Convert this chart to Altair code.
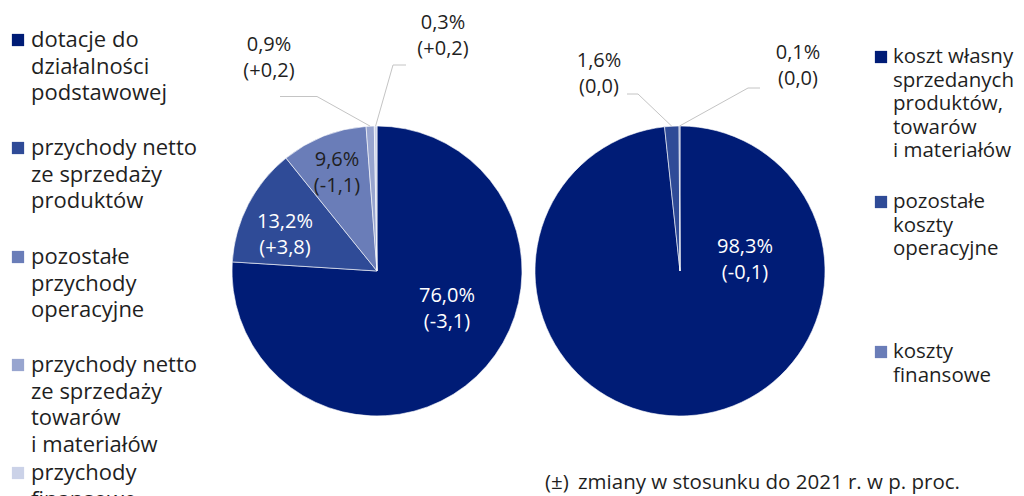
import math
import altair as alt
import pandas as pd

# ---------------- data ----------------
left_categories = [
    "dotacje do\ndziałalności\npodstawowej",
    "przychody netto\nze sprzedaży\nproduktów",
    "pozostałe\nprzychody\noperacyjne",
    "przychody netto\nze sprzedaży\ntowarów\ni materiałów",
    "przychody\nfinansowe",
]
left_share = [76.0, 13.2, 9.6, 0.9, 0.3]
left_change = [-3.1, 3.8, -1.1, 0.2, 0.2]

right_categories = [
    "koszt własny\nsprzedanych\nproduktów,\ntowarów\ni materiałów",
    "pozostałe\nkoszty\noperacyjne",
    "koszty\nfinansowe",
]
right_share = [98.3, 1.6, 0.1]
right_change = [-0.1, 0.0, 0.0]

note_symbol = "(±)"
note_text = "zmiany w stosunku do 2021 r. w p. proc."

# ---------------- styles / layout ----------------
OFF = 8  # page margin
palette = ["#001c76", "#2f4b97", "#6a7db8", "#98a5cf", "#cbd2e8"]
TXT = "#1f1f1f"
FONT = "Open Sans"
R = 145
left_center = (377, 271)
right_center = (680, 271)
left_label_color = ["white", "white", TXT, TXT, TXT]
right_label_color = ["white", TXT, TXT]
# label block centre offset from pie centre
left_label_off = [(70, 38), (-92, -36), (-40, -98), (-108, -213), (66, -235)]
right_label_off = [(65, -11), (-81, -197), (118, -205)]
# leader lines: (elbow offset, end offset) relative to label block centre
left_leader = {3: ((48, 38.5), (11, 38.5)), 4: ((-50, 29), (-37, 29))}
right_leader = {1: ((39, 20), (28, 20)), 2: ((-50, 22), (-38, 22))}
LH = 26.5
left_legend_y = [40, 148, 257, 365, 473]
right_legend_y = [57, 202, 352]


def fmt_share(v):
    return f"{v:.1f}".replace(".", ",") + "%"


def fmt_change(v):
    if abs(v) < 1e-9:
        return "(0,0)"
    return "(" + f"{v:+.1f}".replace(".", ",") + ")"


def build(shares, changes, center, label_off, label_color, leader):
    pie = pd.DataFrame({
        "idx": list(range(len(shares))),
        "share": shares,
        "color": palette[: len(shares)],
    })
    cx, cy = center
    cum = 0.0
    labels, lines = [], []
    for i, (s, c) in enumerate(zip(shares, changes)):
        mid = 2 * math.pi * (cum + s / 2) / 100.0
        cum += s
        ox, oy = label_off[i]
        lx, ly = cx + ox, cy + oy
        labels.append({
            "x": lx - OFF,
            "y": ly - LH / 2 - OFF,
            "text": fmt_share(s) + "\n" + fmt_change(c),
            "tcolor": label_color[i],
        })
        if i in leader:
            (ex, ey), (nx, ny) = leader[i]
            pts = [
                (cx + R * math.sin(mid), cy - R * math.cos(mid)),
                (lx + ex, ly + ey),
                (lx + nx, ly + ny),
            ]
            for k, (px, py) in enumerate(pts):
                lines.append({"id": f"{center[0]}-{i}", "k": k, "x": px - OFF, "y": py - OFF})
    return pie, pd.DataFrame(labels), pd.DataFrame(lines)


lp, ll, lline = build(left_share, left_change, left_center, left_label_off, left_label_color, left_leader)
rp, rl, rline = build(right_share, right_change, right_center, right_label_off, right_label_color, right_leader)


def arc_layer(df, center):
    return alt.Chart(df).mark_arc(radius=R, stroke="white", strokeWidth=0.6).encode(
        theta=alt.Theta("share:Q", stack=True),
        color=alt.Color("color:N", scale=None),
        order=alt.Order("idx:Q"),
        x=alt.value(center[0] - OFF),
        y=alt.value(center[1] - OFF),
    )


def label_layer(df):
    return alt.Chart(df).mark_text(
        font=FONT, fontSize=20, lineBreak="\n", lineHeight=LH, align="center", baseline="middle"
    ).encode(
        x=alt.X("x:Q", scale=None),
        y=alt.Y("y:Q", scale=None),
        text="text:N",
        color=alt.Color("tcolor:N", scale=None),
    )


lines_df = pd.concat([lline, rline], ignore_index=True)
leader_layer = alt.Chart(lines_df).mark_line(color="#c4c4c4", strokeWidth=1).encode(
    x=alt.X("x:Q", scale=None),
    y=alt.Y("y:Q", scale=None),
    detail="id:N",
    order="k:Q",
)

legend_df = pd.DataFrame(
    [{"sx": 18 - OFF, "tx": 31 - OFF, "y": yy - OFF, "label": lab, "color": palette[i]}
     for i, (lab, yy) in enumerate(zip(left_categories, left_legend_y))]
    + [{"sx": 881 - OFF, "tx": 893 - OFF, "y": yy - OFF, "label": lab, "color": palette[i]}
       for i, (lab, yy) in enumerate(zip(right_categories, right_legend_y))]
)

legend_sq = alt.Chart(legend_df).mark_square(size=150, opacity=1).encode(
    x=alt.X("sx:Q", scale=None),
    y=alt.Y("y:Q", scale=None),
    color=alt.Color("color:N", scale=None),
)
legend_left_txt = alt.Chart(legend_df.iloc[: len(left_categories)]).mark_text(
    font=FONT, fontSize=22, lineBreak="\n", lineHeight=26.7, align="left", baseline="middle", color=TXT
).encode(x=alt.X("tx:Q", scale=None), y=alt.Y("y:Q", scale=None), text="label:N")
legend_right_txt = alt.Chart(legend_df.iloc[len(left_categories):]).mark_text(
    font=FONT, fontSize=20.5, lineBreak="\n", lineHeight=23.5, align="left", baseline="middle", color=TXT
).encode(x=alt.X("tx:Q", scale=None), y=alt.Y("y:Q", scale=None), text="label:N")

note_df = pd.DataFrame({
    "x": [545 - OFF, 578 - OFF],
    "y": [483 - OFF, 483 - OFF],
    "t": [note_symbol, note_text],
})
note = alt.Chart(note_df).mark_text(
    font=FONT, fontSize=20.5, align="left", baseline="middle", color=TXT
).encode(x=alt.X("x:Q", scale=None), y=alt.Y("y:Q", scale=None), text="t:N")

chart = alt.layer(
    arc_layer(lp, left_center),
    arc_layer(rp, right_center),
    leader_layer,
    label_layer(ll),
    label_layer(rl),
    legend_sq,
    legend_left_txt,
    legend_right_txt,
    note,
).resolve_scale(theta="independent").properties(
    width=1008, height=488, padding=0, autosize=alt.AutoSizeParams(type="none")
).configure_view(strokeWidth=0)

chart.save("out.html", embed_options={"renderer": "svg", "actions": False})
